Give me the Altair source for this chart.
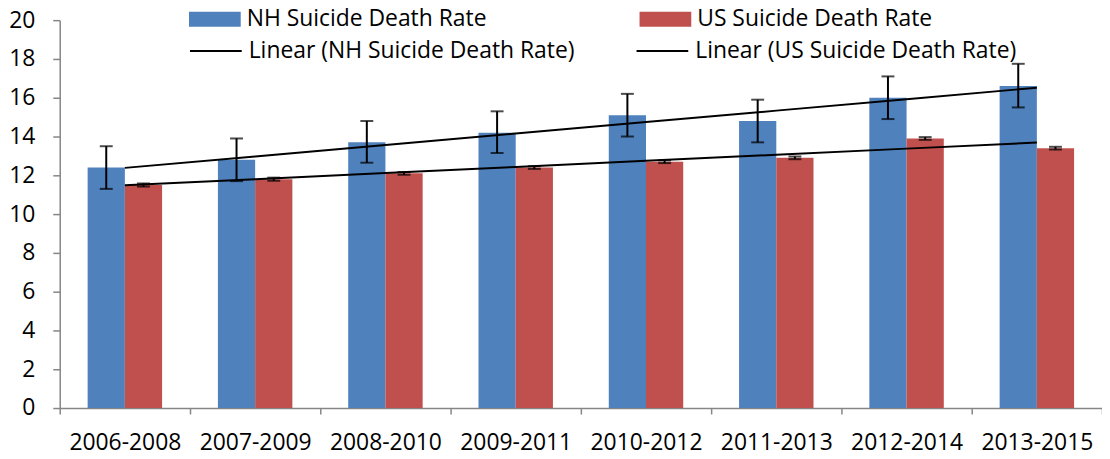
import altair as alt
import pandas as pd
import numpy as np

periods = ["2006-2008", "2007-2009", "2008-2010", "2009-2011",
           "2010-2012", "2011-2013", "2012-2014", "2013-2015"]
series_names = ["NH Suicide Death Rate", "US Suicide Death Rate"]
trend_names = ["Linear (NH Suicide Death Rate)", "Linear (US Suicide Death Rate)"]

nh_rate = [12.4, 12.8, 13.7, 14.2, 15.1, 14.8, 16.0, 16.6]
us_rate = [11.5, 11.8, 12.1, 12.4, 12.7, 12.9, 13.9, 13.4]
nh_low = [11.3, 11.7, 12.65, 13.15, 14.0, 13.7, 14.9, 15.5]
nh_high = [13.5, 13.9, 14.8, 15.3, 16.2, 15.9, 17.1, 17.75]
us_low = [11.42, 11.72, 12.03, 12.33, 12.63, 12.83, 13.83, 13.33]
us_high = [11.58, 11.88, 12.17, 12.47, 12.77, 12.97, 13.97, 13.47]

y_ticks = [0, 2, 4, 6, 8, 10, 12, 14, 16, 18, 20]

BLUE = "#4F81BD"
RED = "#C0504D"
GREY = "#868686"
FONT = "Open Sans"

rows = []
for i, p in enumerate(periods):
    rows.append({"period": p, "series": series_names[0], "value": nh_rate[i],
                 "lower": nh_low[i], "upper": nh_high[i]})
    rows.append({"period": p, "series": series_names[1], "value": us_rate[i],
                 "lower": us_low[i], "upper": us_high[i]})
df = pd.DataFrame(rows)

# linear trend lines (least squares over category index, as Excel does)
idx = np.arange(len(periods))
trend_rows = []
for name, vals in zip(trend_names, [nh_rate, us_rate]):
    slope, intercept = np.polyfit(idx, vals, 1)
    for i, p in enumerate(periods):
        trend_rows.append({"period": p, "trend": name, "fit": float(intercept + slope * i)})
tdf = pd.DataFrame(trend_rows)

x_enc = alt.X("period:N", sort=periods,
              scale=alt.Scale(paddingInner=0, paddingOuter=0),
              axis=alt.Axis(title=None, labelAngle=0, tickBand="extent",
                            tickSize=6, labelPadding=18))
xoff = alt.XOffset("series:N", sort=series_names,
                   scale=alt.Scale(paddingInner=0, paddingOuter=0.75))
y_scale = alt.Scale(domain=[0, 20], nice=False, zero=True)
y_axis = alt.Axis(title=None, values=y_ticks, grid=False, tickSize=7,
                  labelPadding=18, labelOverlap=False)

bars = alt.Chart(df).mark_bar().encode(
    x=x_enc,
    xOffset=xoff,
    y=alt.Y("value:Q", scale=y_scale, axis=y_axis),
    color=alt.Color("series:N", sort=series_names,
                    scale=alt.Scale(domain=series_names, range=[BLUE, RED]),
                    legend=alt.Legend(
                        title=None, orient="none", legendX=130, legendY=-27,
                        direction="horizontal", columns=2, columnPadding=153,
                        symbolType="M-1,-0.29L1,-0.29L1,0.29L-1,0.29Z",
                        symbolSize=2704, symbolStrokeWidth=0,
                        labelOffset=6, padding=0)),
)

err = alt.Chart(df).mark_rule(color="black", strokeWidth=2).encode(
    x=x_enc, xOffset=xoff,
    y=alt.Y("lower:Q", scale=y_scale, axis=y_axis),
    y2="upper:Q",
)
cap_hi = alt.Chart(df).mark_tick(color="black", thickness=2, size=13).encode(
    x=x_enc, xOffset=xoff, y=alt.Y("upper:Q", scale=y_scale, axis=y_axis),
)
cap_lo = alt.Chart(df).mark_tick(color="black", thickness=2, size=13).encode(
    x=x_enc, xOffset=xoff, y=alt.Y("lower:Q", scale=y_scale, axis=y_axis),
)

lines = alt.Chart(tdf).mark_line(strokeWidth=2).encode(
    x=x_enc,
    y=alt.Y("fit:Q", scale=y_scale, axis=y_axis),
    stroke=alt.Stroke("trend:N", sort=trend_names,
                      scale=alt.Scale(domain=trend_names, range=["#000000", "#000000"]),
                      legend=alt.Legend(
                          title=None, orient="none", legendX=130, legendY=4,
                          direction="horizontal", columns=2, columnPadding=58,
                          symbolType="stroke", symbolSize=2704,
                          symbolStrokeWidth=2, symbolStrokeColor="black",
                          labelOffset=6, padding=0)),
)

chart = alt.layer(bars, lines, err, cap_hi, cap_lo).resolve_scale(
    color="independent"
).properties(
    width=1048, height=390,
    autosize=alt.AutoSizeParams(type="none"),
    padding={"left": 52, "top": 11, "right": 0, "bottom": 48},
).configure_view(stroke=None).configure_axis(
    domainColor=GREY, domainWidth=1.5, tickColor=GREY, tickWidth=1.5,
    labelFont=FONT, labelFontSize=23, labelColor="black",
).configure_legend(
    labelFont=FONT, labelFontSize=23, labelColor="black", labelLimit=800,
)

chart.save("out.html", embed_options={"renderer": "svg", "actions": False})
